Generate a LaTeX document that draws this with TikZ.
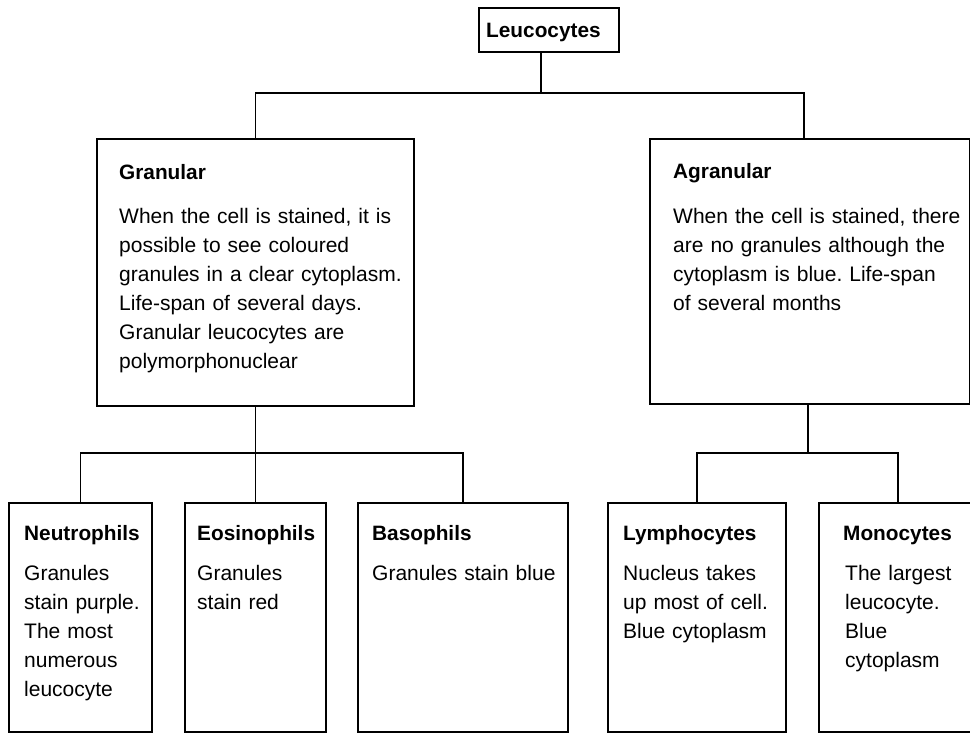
\documentclass[tikz,border=0pt]{standalone}
\usepackage{fontspec}
\setmainfont{Liberation Sans}
\frenchspacing
\begin{document}
\begin{tikzpicture}[x=1pt,y=-1pt,
  box/.style={draw, line width=1.7pt, inner sep=0pt, outer sep=0pt},
  link/.style={line width=1.2pt},
  ttl/.style={anchor=base west, inner sep=0pt, font=\fontsize{20.8}{29}\selectfont\bfseries},
  body/.style={anchor=base west, inner sep=0pt, text width=330pt, align=left,
               font=\fontsize{21}{29}\selectfont}]
\useasboundingbox[fill=white] (0,0) rectangle (970,732);

% boxes: centre, width, height
\node[box, minimum width=140pt, minimum height=44pt]  (leuc)  at (549,30) {};
\node[box, minimum width=317pt, minimum height=267pt] (gran)  at (255.5,272.5) {};
\node[box, minimum width=320pt, minimum height=265pt] (agran) at (810,271.5) {};
\node[box, minimum width=143pt, minimum height=229pt] (neu)   at (80.5,617.5) {};
\node[box, minimum width=141pt, minimum height=229pt] (eos)   at (255.5,617.5) {};
\node[box, minimum width=210pt, minimum height=229pt] (bas)   at (463,617.5) {};
\node[box, minimum width=178pt, minimum height=229pt] (lym)   at (697,617.5) {};
\node[box, minimum width=158pt, minimum height=229pt] (mono)  at (898,617.5) {};

% bus lines
\coordinate (topbus) at (0,93);
\coordinate (lowbus) at (0,453);

% connectors
\draw[link] ([xshift=-8pt]leuc.south) -- ([xshift=-8pt]leuc.south |- topbus);
\draw[link] (gran.north) -- (gran.north |- topbus) -- ([xshift=-6pt]agran.north |- topbus) -- ([xshift=-6pt]agran.north);
\draw[link] (gran.south) -- (eos.north);
\draw[link] (neu.north) -- (neu.north |- lowbus) -- (bas.north |- lowbus) -- (bas.north);
\draw[link] ([xshift=-2pt]agran.south) -- ([xshift=-2pt]agran.south |- lowbus);
\draw[link] (lym.north) -- (lym.north |- lowbus) -- (mono.north |- lowbus) -- (mono.north);

% texts
\node[ttl] (leuct) at (486,37) {Leucocytes};

\node[ttl]  (grant) at (119,179) {Granular};
\node[body] (granb) at (119,223) {When the cell is stained, it is\\possible to see coloured\\granules in a clear cytoplasm.\\Life-span of several days.\\Granular leucocytes are\\polymorphonuclear};

\node[ttl]  (agrant) at (673,178) {Agranular};
\node[body] (agranb) at (673,223) {When the cell is stained, there\\are no granules although the\\cytoplasm is blue. Life-span\\of several months};

\node[ttl]  (neut) at (24,540) {Neutrophils};
\node[body] (neub) at (24,580) {Granules\\stain purple.\\The most\\numerous\\leucocyte};

\node[ttl]  (eost) at (197,540) {Eosinophils};
\node[body] (eosb) at (197,580) {Granules\\stain red};

\node[ttl]  (bast) at (372,540) {Basophils};
\node[body] (basb) at (372,580) {Granules stain blue};

\node[ttl]  (lymt) at (623,540) {Lymphocytes};
\node[body] (lymb) at (623,580) {Nucleus takes\\up most of cell.\\Blue cytoplasm};

\node[ttl]  (monot) at (843,540) {Monocytes};
\node[body] (monob) at (845,580) {The largest\\leucocyte.\\Blue\\cytoplasm};
\end{tikzpicture}
\end{document}
